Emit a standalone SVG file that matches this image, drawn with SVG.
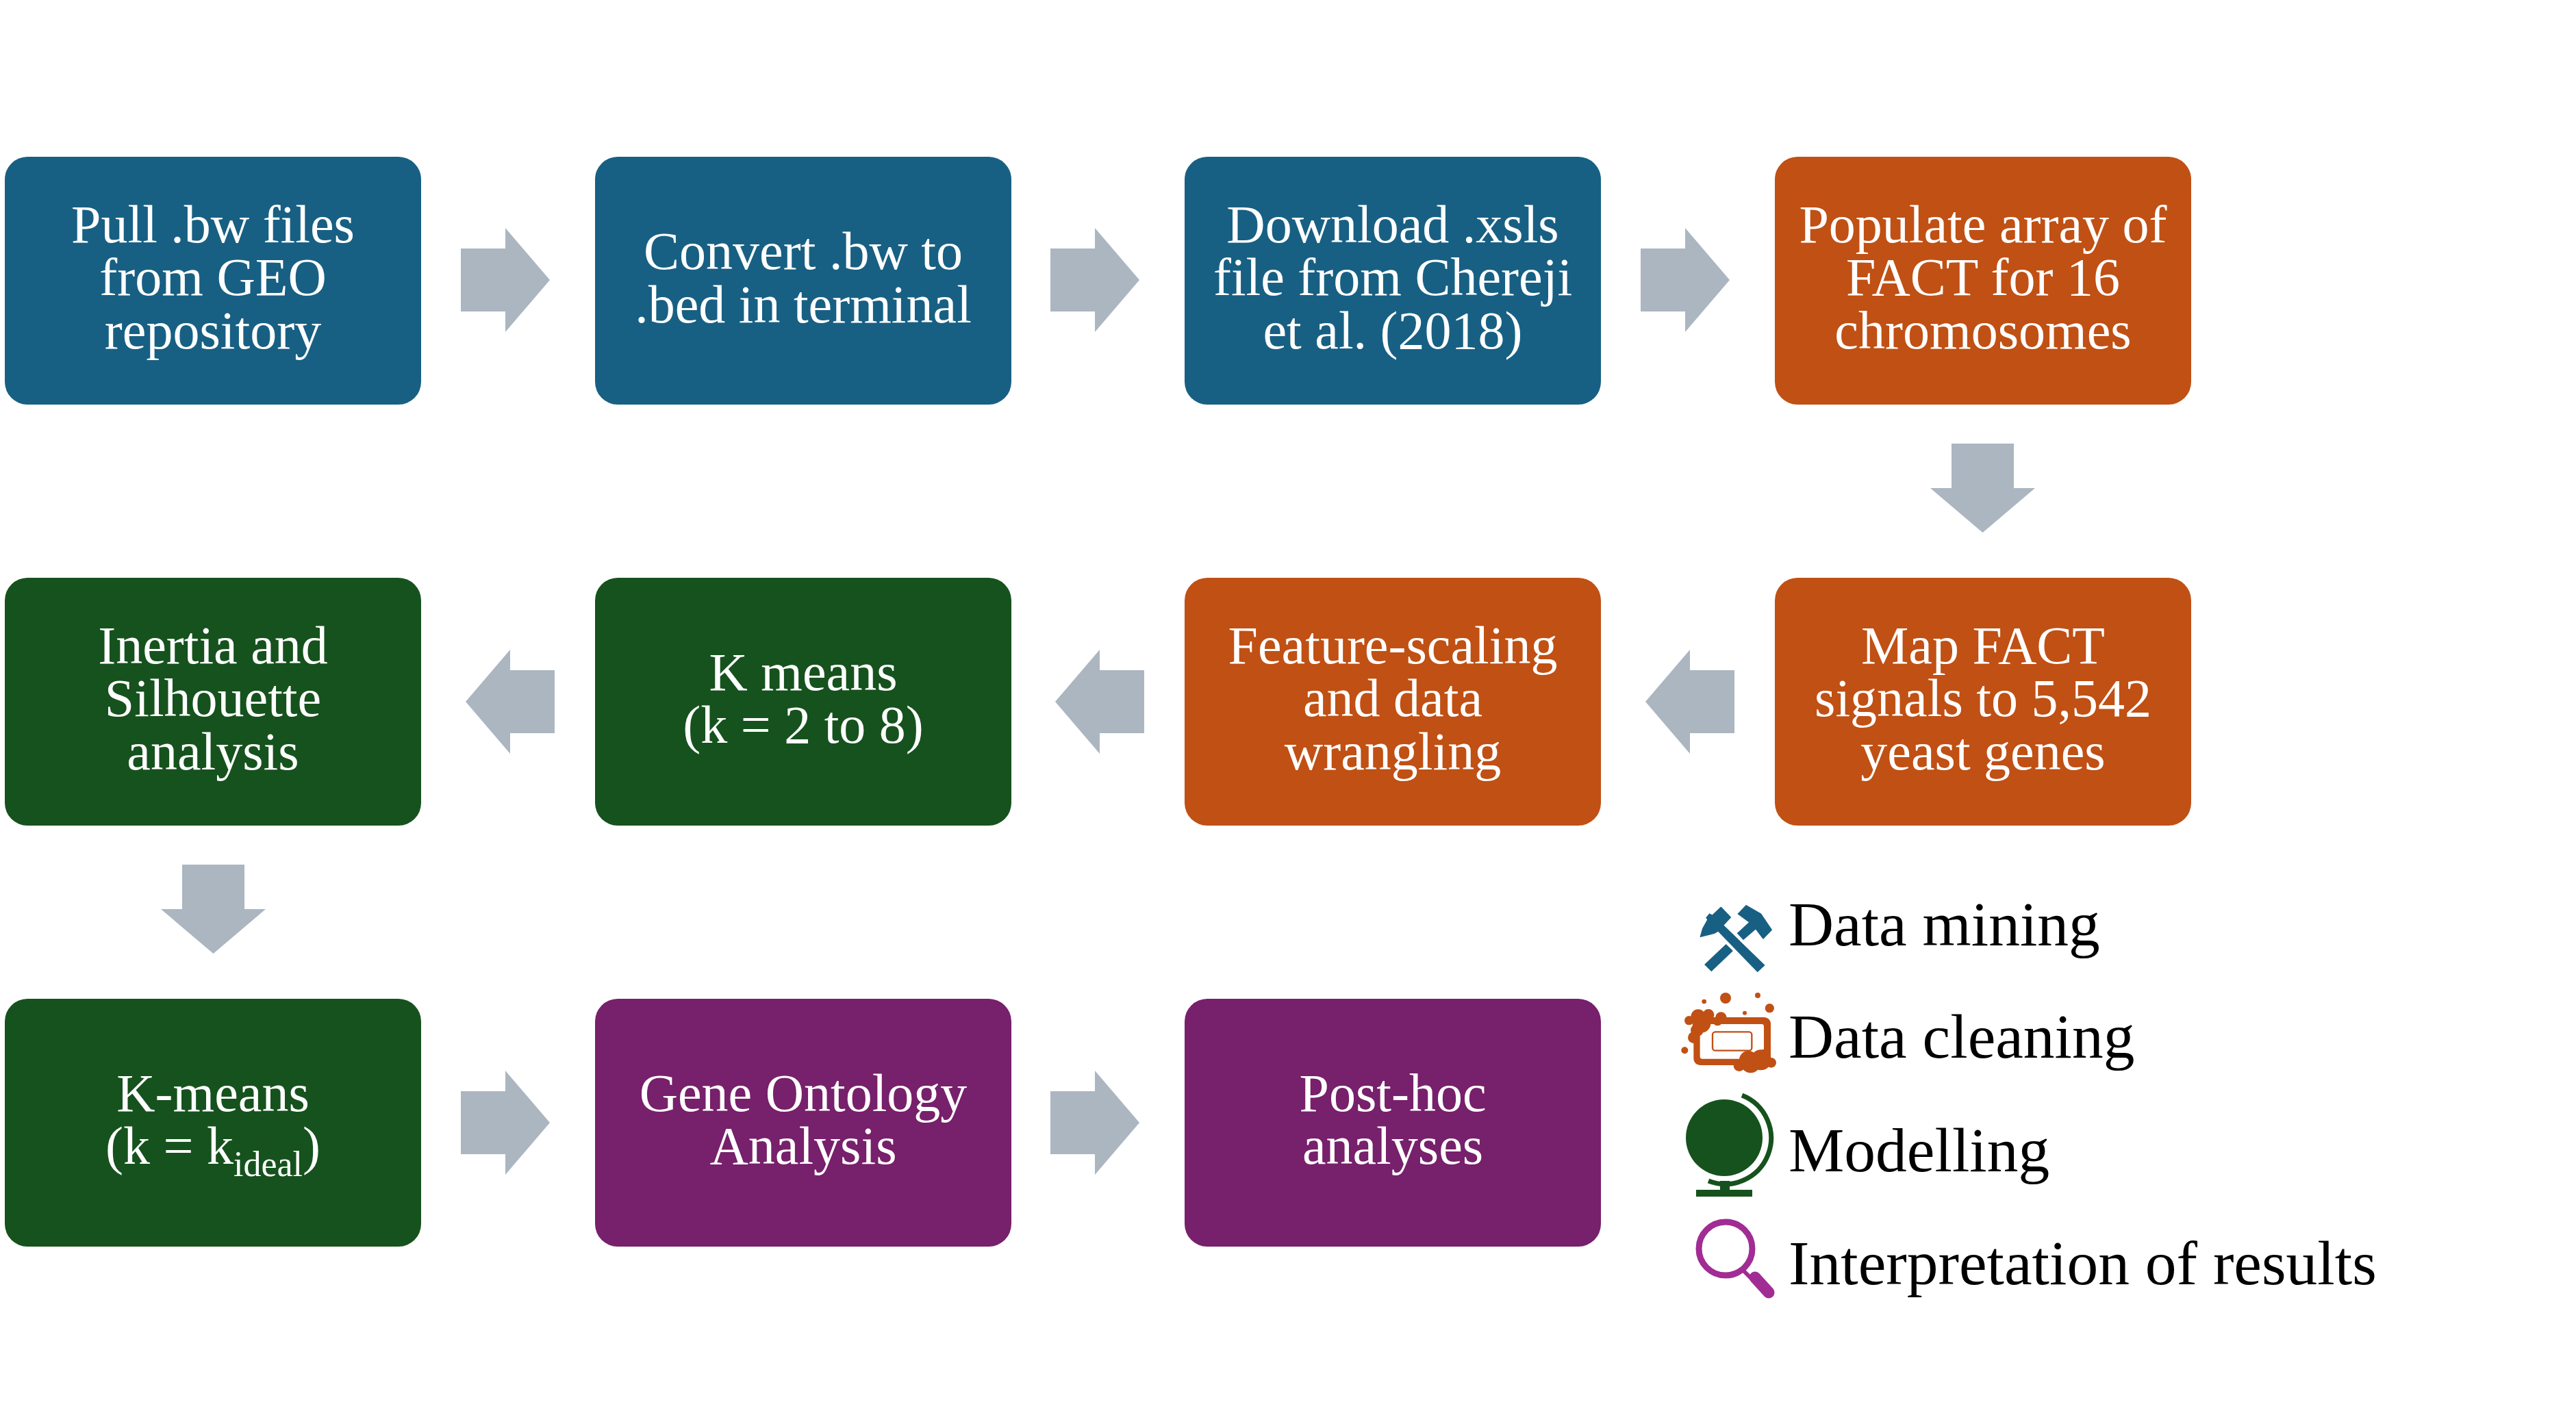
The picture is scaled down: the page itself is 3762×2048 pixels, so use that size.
<svg xmlns="http://www.w3.org/2000/svg" width="3762" height="2048" viewBox="0 0 3762 2048">
<style>
.box{stroke:none}
.blue{fill:#186083}.orange{fill:#C05014}.green{fill:#16521D}.purple{fill:#77206B}
.arrow{fill:#ABB6C1}
text{font-family:"Liberation Serif","Times New Roman",serif}
.t{font-size:78px;fill:#fff;text-anchor:middle}
.sub{font-size:52px}
.leg{font-size:91.5px;fill:#000}
</style>
<defs>
<rect id="b" width="608" height="362" rx="33" ry="33"/>
<polygon id="ar" points="0,30 65,30 65,0 130,76 65,152 65,122 0,122"/>
<polygon id="al" points="130,30 65,30 65,0 0,76 65,152 65,122 130,122"/>
<polygon id="ad" points="31,0 122,0 122,65 153,65 76.5,130 0,65 31,65"/>
</defs>
<rect width="3762" height="2048" fill="#fff"/>
<g id="connectors" class="arrow">
<use href="#ar" x="673" y="333"/>
<use href="#ar" x="1534" y="333"/>
<use href="#ar" x="2396" y="333"/>
<use href="#ad" x="2819" y="648"/>
<use href="#al" x="2403" y="949"/>
<use href="#al" x="1541" y="949"/>
<use href="#al" x="680" y="949"/>
<use href="#ad" x="235" y="1263"/>
<use href="#ar" x="673" y="1564"/>
<use href="#ar" x="1534" y="1564"/>
</g>
<g id="n1"><use href="#b" x="7" y="229" class="blue"/><text class="t"><tspan x="311" y="354">Pull .bw files</tspan><tspan x="311" y="431">from GEO</tspan><tspan x="311" y="509">repository</tspan></text></g>
<g id="n2"><use href="#b" x="869" y="229" class="blue"/><text class="t"><tspan x="1173" y="393">Convert .bw to</tspan><tspan x="1173" y="471">.bed in terminal</tspan></text></g>
<g id="n3"><use href="#b" x="1730" y="229" class="blue"/><text class="t"><tspan x="2034" y="354">Download .xsls</tspan><tspan x="2034" y="431">file from Chereji</tspan><tspan x="2034" y="509">et al. (2018)</tspan></text></g>
<g id="n4"><use href="#b" x="2592" y="229" class="orange"/><text class="t"><tspan x="2896" y="354">Populate array of</tspan><tspan x="2896" y="431">FACT for 16</tspan><tspan x="2896" y="509">chromosomes</tspan></text></g>
<g id="n5"><use href="#b" x="2592" y="844" class="orange"/><text class="t"><tspan x="2896" y="969">Map FACT</tspan><tspan x="2896" y="1046">signals to 5,542</tspan><tspan x="2896" y="1124">yeast genes</tspan></text></g>
<g id="n6"><use href="#b" x="1730" y="844" class="orange"/><text class="t"><tspan x="2034" y="969">Feature-scaling</tspan><tspan x="2034" y="1046">and data</tspan><tspan x="2034" y="1124">wrangling</tspan></text></g>
<g id="n7"><use href="#b" x="869" y="844" class="green"/><text class="t"><tspan x="1173" y="1008">K means</tspan><tspan x="1173" y="1085">(k = 2 to 8)</tspan></text></g>
<g id="n8"><use href="#b" x="7" y="844" class="green"/><text class="t"><tspan x="311" y="969">Inertia and</tspan><tspan x="311" y="1046">Silhouette</tspan><tspan x="311" y="1124">analysis</tspan></text></g>
<g id="n9"><use href="#b" x="7" y="1459" class="green"/><text class="t"><tspan x="311" y="1623">K-means</tspan><tspan x="311" y="1700">(k = k<tspan class="sub" dy="18">ideal</tspan><tspan dy="-18">)</tspan></tspan></text></g>
<g id="n10"><use href="#b" x="869" y="1459" class="purple"/><text class="t"><tspan x="1173" y="1623">Gene Ontology</tspan><tspan x="1173" y="1700">Analysis</tspan></text></g>
<g id="n11"><use href="#b" x="1730" y="1459" class="purple"/><text class="t"><tspan x="2034" y="1623">Post-hoc</tspan><tspan x="2034" y="1700">analyses</tspan></text></g>
<g id="legend-mining">
<g transform="translate(2470,1310) scale(.3333)" fill="#186083" stroke="#186083" stroke-width="4" stroke-linejoin="round">
<polygon points="40,175 50,140 72,100 66,92 80,75 92,82 130,46 172,90 140,125 320,300 290,328 118,150 100,160"/>
<polygon points="205,75 240,38 305,75 352,145 315,183 282,140 228,187 203,160 255,112"/>
<polygon points="152,210 180,237 88,325 60,297"/>
</g>
<text class="leg" x="2612" y="1381">Data mining</text>
</g>
<g id="legend-cleaning">
<g transform="translate(2450,1450) scale(.3333)" fill="#C05014">
<path fill-rule="evenodd" d="M98,108H380A28,28 0 0 1 408,136V290A28,28 0 0 1 380,318H98A28,28 0 0 1 70,290V136A28,28 0 0 1 98,108ZM108,138A10,10 0 0 0 98,148V280A10,10 0 0 0 108,290H368A10,10 0 0 0 378,280V148A10,10 0 0 0 368,138Z"/>
<rect x="153" y="172" width="172" height="82" rx="12" fill="none" stroke="#C05014" stroke-width="7"/>
<circle cx="210" cy="24" r="24"/><circle cx="351" cy="12" r="12"/><circle cx="116" cy="39" r="10"/><circle cx="403" cy="68" r="20"/><circle cx="294" cy="89" r="9"/><circle cx="31" cy="253" r="15"/>
<circle cx="50" cy="122" r="20"/><circle cx="90" cy="105" r="32"/><circle cx="135" cy="97" r="25"/><circle cx="190" cy="110" r="25"/><circle cx="105" cy="135" r="40"/><circle cx="85" cy="165" r="28"/><circle cx="70" cy="197" r="25"/><circle cx="175" cy="125" r="20"/>
<circle cx="310" cy="295" r="40"/><circle cx="270" cy="320" r="25"/><circle cx="320" cy="310" r="42"/><circle cx="365" cy="295" r="45"/><circle cx="410" cy="307" r="22"/><circle cx="380" cy="270" r="22"/>
</g>
<text class="leg" x="2612" y="1545">Data cleaning</text>
</g>
<g id="legend-modelling">
<circle cx="2518" cy="1662" r="56" fill="#16521D"/>
<path d="M2544 1600A67 67 0 0 1 2495 1725" fill="none" stroke="#16521D" stroke-width="7"/>
<rect x="2512" y="1725" width="14" height="14" fill="#16521D"/>
<rect x="2477" y="1738" width="82" height="10" fill="#16521D"/>
<text class="leg" x="2612" y="1711">Modelling</text>
</g>
<g id="legend-interpretation">
<circle cx="2520" cy="1824" r="39" fill="none" stroke="#A12C94" stroke-width="9"/>
<path d="M2545 1855L2560 1870" stroke="#A12C94" stroke-width="6" fill="none"/>
<path d="M2563 1866L2583 1888" stroke="#A12C94" stroke-width="17" stroke-linecap="round" fill="none"/>
<text class="leg" x="2612" y="1876">Interpretation of results</text>
</g>
</svg>
